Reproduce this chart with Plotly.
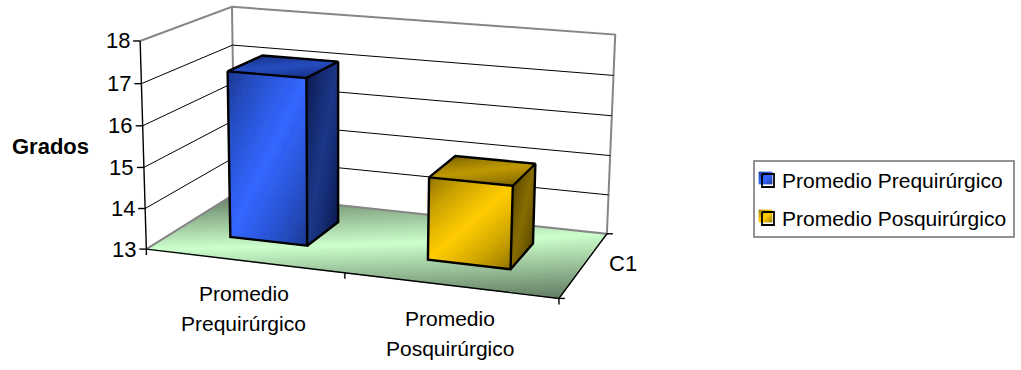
import numpy as np
import plotly.graph_objects as go

# Chart content
categories = ["Promedio<br>Prequirúrgico", "Promedio<br>Posquirúrgico"]
series_names = ["Promedio Prequirúrgico", "Promedio Posquirúrgico"]
series_values = [17.1, 15.0]
value_ticks = [13, 14, 15, 16, 17, 18]
depth_label = "C1"
value_title = "Grados"

VMIN, VMAX = value_ticks[0], value_ticks[-1]
FONT = "Liberation Sans"
FONT_SIZE = 21

# Projective camera: (x along categories, y into depth, z up) -> page pixels
CAMERA = np.array([
    [372.05376, 116.43289, -10.62503, 146.35162],
    [27.69079, -32.23978, -209.42542, 249.09488],
    [-0.07249, 0.11854, -0.03143, 1.0],
])


def project(x, y, v):
    """Page position of category offset x, depth y and axis value v."""
    z = (v - VMIN) / (VMAX - VMIN)
    h = CAMERA @ np.array([x, y, z, 1.0])
    return h[:2] / h[2]


def lerp(a, b, t):
    return np.asarray(a) + (np.asarray(b) - np.asarray(a)) * t


def paint_quad(fig, corners, dark, bright, n=48, levels=32, soft=0.65):
    """Fill a quad (tl, tr, br, bl) with a dark-bright-dark diagonal blend."""
    tl, tr, br, bl = [np.asarray(c, float) for c in corners]
    grid = lambda u, v: lerp(lerp(tl, tr, u), lerp(bl, br, u), v)
    buckets = {}
    for i in range(n):
        for j in range(n):
            u0, u1, v0, v1 = i / n, (i + 1) / n, j / n, (j + 1) / n
            t = (u0 + u1 + v0 + v1) / 4
            level = int(round((1 - abs(2 * t - 1)) ** soft * (levels - 1)))
            pts = [grid(u0, v0), grid(u1, v0), grid(u1, v1), grid(u0, v1), grid(u0, v0)]
            xs, ys = buckets.setdefault(level, ([], []))
            xs += [p[0] for p in pts] + [None]
            ys += [p[1] for p in pts] + [None]
    for level, (xs, ys) in sorted(buckets.items()):
        c = lerp(dark, bright, level / (levels - 1))
        color = "rgb(%d,%d,%d)" % tuple(c)
        fig.add_trace(go.Scatter(x=xs, y=ys, mode="lines", fill="toself", fillcolor=color,
                                 line=dict(color=color, width=0.8), hoverinfo="skip",
                                 showlegend=False))


def stroke(fig, segments, color, width):
    xs, ys = [], []
    for seg in segments:
        xs += [p[0] for p in seg] + [None]
        ys += [p[1] for p in seg] + [None]
    fig.add_trace(go.Scatter(x=xs, y=ys, mode="lines", line=dict(color=color, width=width),
                             hoverinfo="skip", showlegend=False))


def label(fig, x, y, text, anchor="center", bold=False, size=FONT_SIZE):
    fig.add_annotation(x=x, y=y, text="<b>%s</b>" % text if bold else text, showarrow=False,
                       xanchor=anchor, yanchor="middle", xref="x", yref="y",
                       font=dict(family=FONT, size=size, color="black"))


fig = go.Figure()

# Floor
paint_quad(fig, [project(0, 1, VMIN), project(1, 1, VMIN), project(1, 0, VMIN), project(0, 0, VMIN)],
           (96, 122, 96), (204, 255, 204), n=60, levels=40, soft=1.0)

# Wall frame
gray = "#868686"
stroke(fig, [[project(0, 0, VMAX), project(0, 1, VMAX), project(1, 1, VMAX), project(1, 1, VMIN),
              project(0, 1, VMIN), project(0, 0, VMIN)],
             [project(0, 1, VMAX), project(0, 1, VMIN)]], gray, 2)

# Gridlines along the side and back walls
stroke(fig, [[project(0, 0, v), project(0, 1, v), project(1, 1, v)] for v in value_ticks[1:-1]],
       "black", 1)

# Axis lines and tick marks
axis_segments = [[project(0, 0, VMIN), project(0, 0, VMAX)],
                 [project(0, 0, VMIN), project(1, 0, VMIN), project(1, 1, VMIN)]]
for v in value_ticks:
    p = project(0, 0, v)
    axis_segments.append([p, p - (7, 0)])
for x in (0, 0.5, 1):
    p = project(x, 0, VMIN)
    axis_segments.append([p, p + (0, 6)])
for y in (0, 1):
    p = project(1, y, VMIN)
    axis_segments.append([p, p + (6, 0)])
stroke(fig, axis_segments, "black", 1.4)

# Bars
bar_centers = [0.245, 0.748]
bar_width = 0.2
bar_front, bar_back = 0.31, 0.72
palette = [
    dict(front=((22, 48, 128), (51, 102, 255)), side=((10, 20, 70), (28, 56, 135)),
         top=((20, 42, 115), (38, 76, 190))),
    dict(front=((128, 102, 0), (255, 204, 0)), side=((80, 64, 0), (135, 108, 0)),
         top=((110, 88, 0), (190, 152, 0))),
]
for cx, value, colors in zip(bar_centers, series_values, palette):
    x0, x1 = cx - bar_width / 2, cx + bar_width / 2
    c = lambda x, y, v: project(x, y, v)
    paint_quad(fig, [c(x0, bar_front, value), c(x1, bar_front, value),
                     c(x1, bar_front, VMIN), c(x0, bar_front, VMIN)], *colors["front"])
    paint_quad(fig, [c(x1, bar_front, value), c(x1, bar_back, value),
                     c(x1, bar_back, VMIN), c(x1, bar_front, VMIN)], *colors["side"])
    paint_quad(fig, [c(x0, bar_back, value), c(x1, bar_back, value),
                     c(x1, bar_front, value), c(x0, bar_front, value)], *colors["top"])
    stroke(fig, [[c(x0, bar_front, value), c(x1, bar_front, value), c(x1, bar_front, VMIN),
                  c(x0, bar_front, VMIN), c(x0, bar_front, value)],
                 [c(x0, bar_front, value), c(x0, bar_back, value), c(x1, bar_back, value),
                  c(x1, bar_front, value)],
                 [c(x1, bar_back, value), c(x1, bar_back, VMIN), c(x1, bar_front, VMIN)]],
           "black", 2.4)

# Axis text
for v in value_ticks:
    p = project(0, 0, v)
    label(fig, p[0] - 8.5, p[1], str(v), anchor="right", size=22)
label(fig, 50.5, 146, value_title, bold=True, size=22)
for i, text in enumerate(categories):
    p = project((i + 0.5) / len(categories), 0, VMIN)
    line_a, line_b = text.split("<br>")
    label(fig, p[0], p[1] + 33, line_a)
    label(fig, p[0], p[1] + 63, line_b)
label(fig, 623, 263, depth_label, size=22)

# Legend
fig.add_shape(type="rect", x0=754, y0=161, x1=1014, y1=237, xref="x", yref="y",
              line=dict(color="#707070", width=1.5), fillcolor="white", layer="below")
for top, name, colors in zip((172, 210), series_names, palette):
    paint_quad(fig, [(759, top), (772, top), (772, top + 12), (759, top + 12)],
               *colors["front"], n=8, levels=6)
    stroke(fig, [[(762, top + 2), (774, top + 2), (774, top + 15), (762, top + 15), (762, top + 2)]],
           "black", 1.8)
    label(fig, 779.5, top + 8, name, anchor="left")

fig.update_layout(
    width=1021, height=370, margin=dict(l=0, r=0, t=0, b=0),
    paper_bgcolor="white", plot_bgcolor="white", showlegend=False,
    xaxis=dict(range=[0, 1021], visible=False, fixedrange=True),
    yaxis=dict(range=[370, 0], visible=False, fixedrange=True),
)
fig.write_html("out.html", config=dict(displayModeBar=False))
